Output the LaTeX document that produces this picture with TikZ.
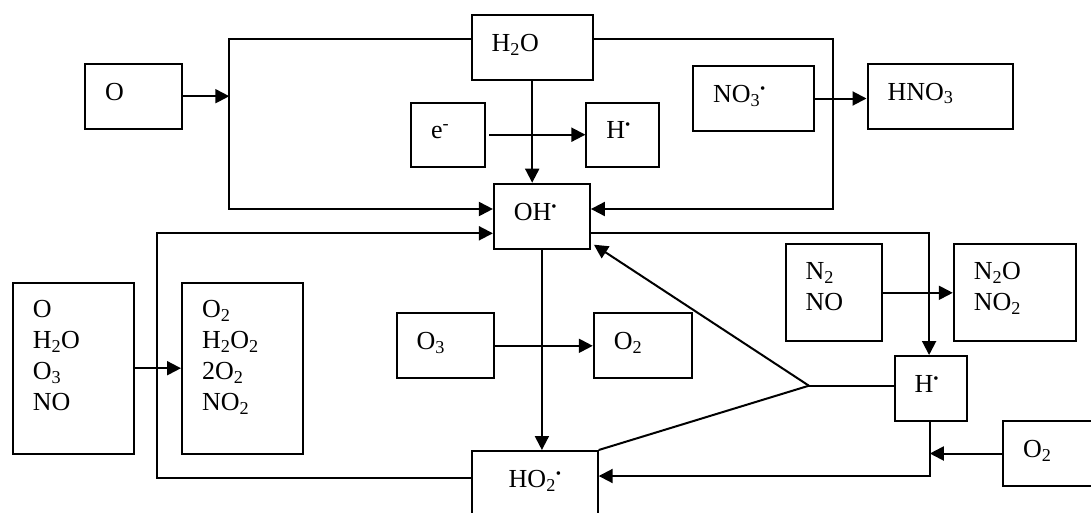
\documentclass[tikz,border=0pt]{standalone}
\usepackage{fontspec}
\setmainfont{Liberation Serif}
\usetikzlibrary{arrows.meta,calc}
\newcommand{\radot}{\textsuperscript{\fontsize{15}{15}\selectfont •}}
\tikzset{
  bx/.style n args={3}{draw, line width=2pt, anchor=north west, inner xsep=20pt,
    inner ysep=0pt, align=left, minimum width=#1pt, minimum height=#2pt,
    text width=#3pt, text height=17pt, text depth=9pt},
  bxm/.style n args={4}{bx={#1}{#2}{#3}, text height=35pt, text depth=#4pt},
  ln/.style={line width=2pt},
  arr/.style={ln, -{Triangle[length=14pt,width=14pt]}},
  every node/.style={font=\fontsize{26}{31}\selectfont}
}
\begin{document}
\begin{tikzpicture}[x=1pt,y=-1pt]
\useasboundingbox (0,0) rectangle (1091,512);
% boxes
\node[bx={97}{65}{57}] (O) at (84,62.7) {O};
\node[bx={121}{65}{81}] (H2O) at (470.7,14.3) {H\textsubscript{2}O};
\node[bx={74}{64}{34}] (e) at (410,101.7) {e\textsuperscript{-}};
\node[bx={73}{64}{33}] (Ht) at (585.4,101.7) {H\radot};
\node[bx={121}{65}{81}] (NO3) at (692,65) {NO\textsubscript{3}\radot};
\node[bx={145}{65}{105}] (HNO3) at (866.5,62.7) {HNO\textsubscript{3}};
\node[bx={96}{65}{56}] (OH) at (492.9,182.7) {OH\radot};
\node[bxm={121}{171}{81}{136}] (L) at (11.8,281.7) {O\\H\textsubscript{2}O\\O\textsubscript{3}\\NO};
\node[bxm={121}{171}{81}{136}] (P) at (181,281.7) {O\textsubscript{2}\\H\textsubscript{2}O\textsubscript{2}\\2O\textsubscript{2}\\NO\textsubscript{2}};
\node[bx={97}{65}{57}] (O3) at (395.7,312.3) {O\textsubscript{3}};
\node[bx={98}{65}{58}] (O2m) at (592.8,312.3) {O\textsubscript{2}};
\node[bxm={96}{97}{56}{62}] (N2) at (784.5,243.3) {N\textsubscript{2}\\NO};
\node[bxm={122}{97}{82}{62}] (N2O) at (952.8,243.3) {N\textsubscript{2}O\\NO\textsubscript{2}};
\node[bx={72}{65}{32}] (Hl) at (893.6,355) {H\radot};
\node[bx={98}{65}{58}] (O2r) at (1002,420) {O\textsubscript{2}};
\node[bx={126}{65}{52}, inner xsep=37pt] (HO2) at (470.7,450) {HO\textsubscript{2}\radot};
% coordinates
\coordinate (tl) at (229.3,38.7);
\coordinate (bl) at (229.3,209);
\coordinate (tr) at (832.6,38.7);
\coordinate (br) at (832.6,209);
\coordinate (ll) at (157.1,478.3);
\coordinate (lt) at (157.1,233.3);
\coordinate (rt) at (929.1,233.3);
\coordinate (j) at (808.9,385.7);
\coordinate (hb) at (929.8,476);
% connectors
\draw[arr] (O.east) -- (O.east -| tl);
\draw[arr] (H2O.west |- tl) -- (tl) -- (bl) -- (OH.west |- bl);
\draw[arr] (H2O.east |- tr) -- (tr) -- (br) -- (OH.east |- br);
\draw[arr] (H2O.south) -- (H2O.south |- OH.north);
\draw[arr] ([xshift=3pt]e.east) -- (Ht.west |- e.east);
\draw[arr] (NO3.east) -- (HNO3.west |- NO3.east);
\draw[arr] (L.east) -- (P.west);
\draw[arr] (HO2.west |- ll) -- (ll) -- (lt) -- (OH.west |- lt);
\draw[arr] (OH.south) -- (OH.south |- HO2.north);
\draw[arr] (O3.east) -- (O2m.west |- O3.east);
\draw[arr] (OH.east |- rt) -- (rt) -- (rt |- Hl.north);
\draw[arr] (N2.east) -- (N2O.west);
\draw[ln] (Hl.west |- j) -- (j);
\draw[arr] (j) -- ([shift={(3,-5)}]OH.south east);
\draw[ln] (j) -- (HO2.north east);
\draw[arr] (Hl.south -| hb) -- (hb) -- (HO2.east |- hb);
\draw[arr] (O2r.west) -- (hb |- O2r.west);
\end{tikzpicture}
\end{document}
